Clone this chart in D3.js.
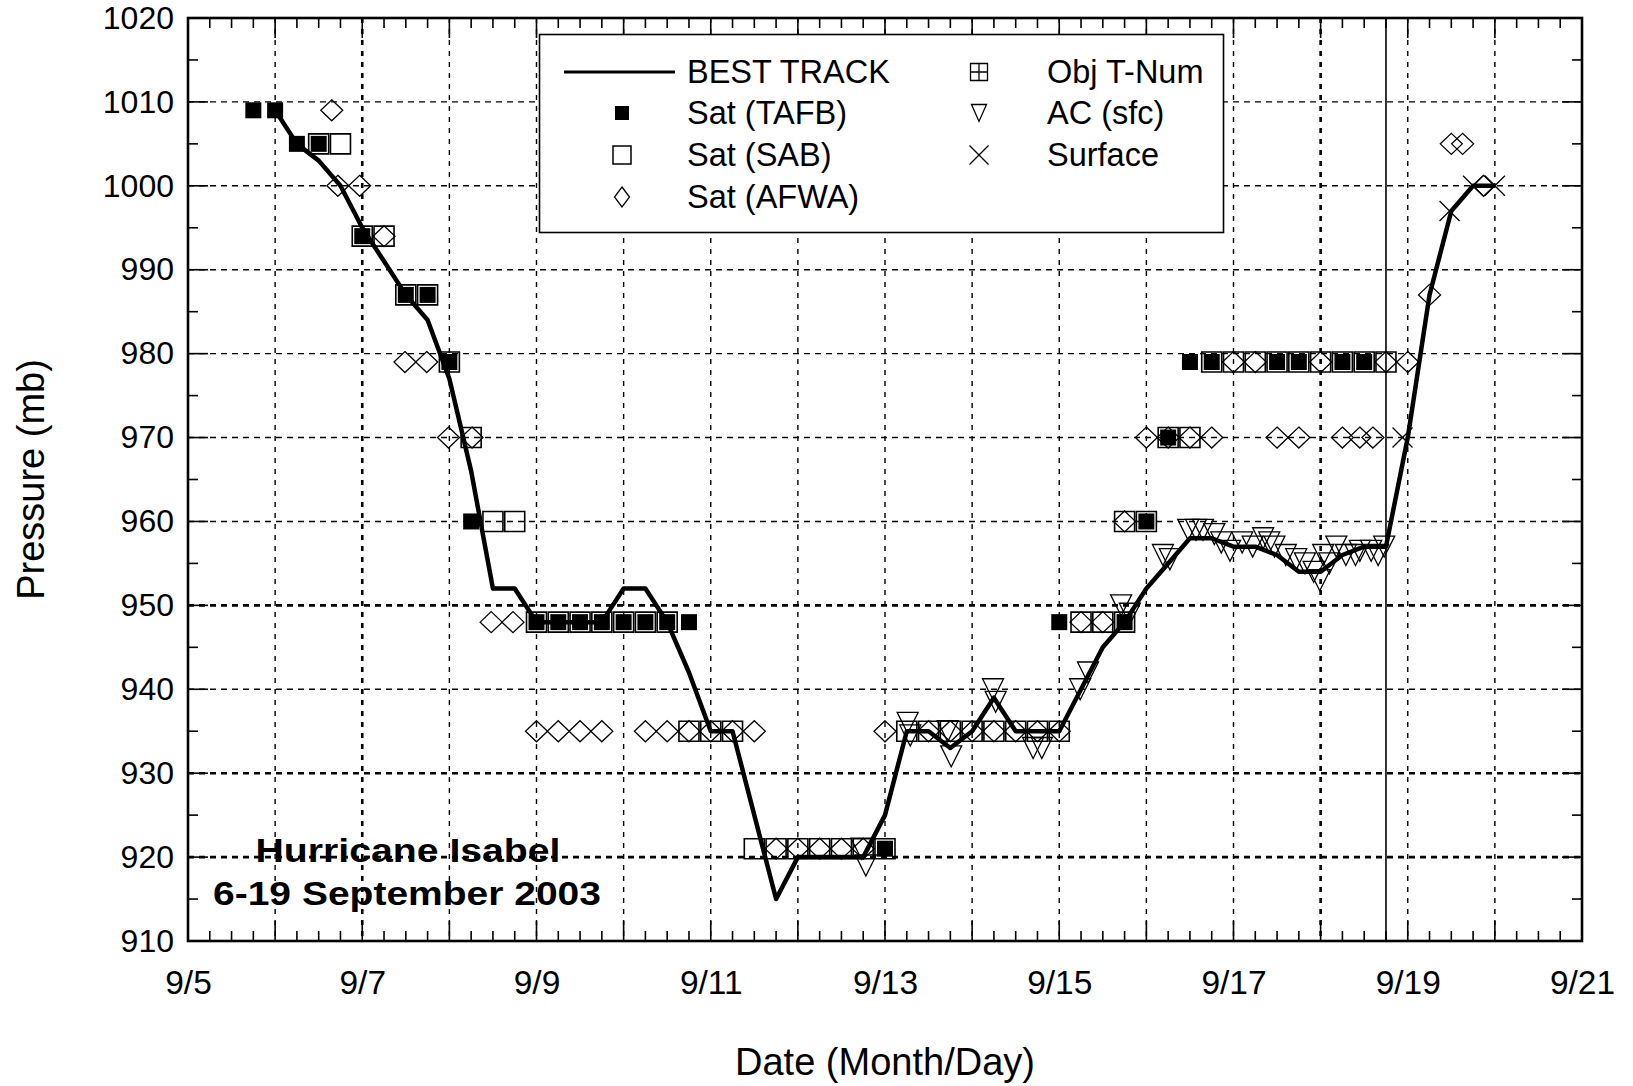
<!DOCTYPE html>
<html><head><meta charset="utf-8">
<script src="https://cdn.jsdelivr.net/npm/d3@7"></script>
<style>
body{margin:0;background:#fff}
svg{display:block}
text{font-family:"Liberation Sans", Arial, sans-serif;fill:#000}
</style>
</head><body>
<svg id="c" width="1633" height="1086"></svg>
<script>
// ---------------- DATA (day of September, pressure in mb) ----------------
const bestTrack = [[6.0,1009],[6.25,1005],[6.5,1003],[6.75,1000],[7.0,995],[7.25,991],[7.5,987],[7.75,984],
 [8.0,977],[8.25,966],[8.5,952],[8.75,952],[9.0,948],[9.25,948],[9.5,948],[9.75,948],[10.0,952],[10.25,952],
 [10.5,948],[10.75,942],[11.0,935],[11.25,935],[11.5,925],[11.75,915],[12.0,920],[12.25,920],[12.5,920],
 [12.75,920],[13.0,925],[13.25,935],[13.5,935],[13.75,933],[14.0,935],[14.25,939],[14.5,935],[14.75,935],
 [15.0,935],[15.25,940],[15.5,945],[15.75,948],[16.0,952],[16.25,955],[16.5,958],[16.75,958],[17.0,957],
 [17.25,957],[17.5,956],[17.75,954],[18.0,954],[18.25,956],[18.5,957],[18.75,957],[19.0,970],[19.25,987],
 [19.5,997],[19.75,1000],[20.0,1000]];

const satTAFB = [[5.75,1009],[6.0,1009],[6.25,1005],[6.5,1005],[7.0,994],[7.5,987],[7.75,987],[8.0,979],
 [8.25,960],[9.0,948],[9.25,948],[9.5,948],[9.75,948],[10.0,948],[10.25,948],[10.5,948],[10.75,948],
 [13.0,921],[15.0,948],[15.75,948],[16.0,960],[16.25,970],[16.5,979],[16.75,979],[17.5,979],[17.75,979],
 [18.25,979],[18.5,979]];

const satSAB = [[6.5,1005],[6.75,1005],[7.0,994],[7.25,994],[7.5,987],[7.75,987],[8.0,979],[8.25,970],
 [8.5,960],[8.75,960],[9.0,948],[9.25,948],[9.5,948],[9.75,948],[10.0,948],[10.25,948],[10.5,948],
 [10.75,935],[11.0,935],[11.25,935],[11.5,921],[11.75,921],[12.0,921],[12.25,921],[12.5,921],[12.75,921],
 [13.0,921],[13.25,935],[13.5,935],[13.75,935],[14.0,935],[14.25,935],[14.5,935],[14.75,935],[15.0,935],
 [15.25,948],[15.5,948],[15.75,948],[15.75,960],[16.0,960],[16.25,970],[16.5,970],[16.75,979],[17.0,979],
 [17.25,979],[17.5,979],[17.75,979],[18.0,979],[18.25,979],[18.5,979],[18.75,979]];

const satAFWA = [[6.65,1009],[6.72,1000],[6.97,1000],[7.25,994],[7.49,979],[7.74,979],[7.99,970],[8.26,970],
 [8.48,948],[8.73,948],[9.0,935],[9.25,935],[9.5,935],[9.75,935],[10.25,935],[10.5,935],[10.75,935],
 [11.0,935],[11.25,935],[11.5,935],[11.75,921],[12.0,921],[12.25,921],[12.5,921],[12.75,921],[13.0,935],
 [13.5,935],[13.75,935],[14.0,935],[14.25,935],[14.5,935],[14.75,935],[15.0,935],[15.25,948],[15.5,948],
 [15.75,960],[16.0,970],[16.25,970],[16.5,970],[16.75,970],[17.0,979],[17.25,979],[17.5,970],[17.75,970],
 [18.0,979],[18.25,970],[18.45,970],[18.6,970],[18.75,979],[19.0,979],[19.25,987],[19.5,1005],
 [19.63,1005],[19.87,1000]];

const objTNum = [];

const acSfc = [[12.73,921],[12.78,919],[13.26,936],[13.29,934.5],[13.72,935],[13.76,932],[14.24,940],
 [14.27,938.5],[14.7,933],[14.8,933],[15.24,940],[15.33,942],[15.71,950],[15.81,949],[16.19,956],
 [16.27,955.5],[16.48,959],[16.57,959],[16.65,959],[16.78,958.5],[16.86,957.5],[16.96,956.5],[17.1,957.5],
 [17.22,957],[17.34,958],[17.41,957.5],[17.47,957],[17.6,956],[17.72,955.5],[17.82,955],[17.92,954],
 [17.99,953],[18.03,956],[18.1,955],[18.18,957],[18.29,956],[18.4,956],[18.45,956.5],[18.58,956.5],
 [18.66,956],[18.73,957]];

const surface = [[18.94,970],[19.48,997],[19.75,1000],[20.0,1000]];

const landfallDay = 18.75;

const xTickDays = [5,7,9,11,13,15,17,19,21];
const xTickLabels = ["9/5","9/7","9/9","9/11","9/13","9/15","9/17","9/19","9/21"];
const yTickValues = [910,920,930,940,950,960,970,980,990,1000,1010,1020];
const yTickLabels = ["910","920","930","940","950","960","970","980","990","1000","1010","1020"];

const legendLabels = ["BEST TRACK","Sat (TAFB)","Sat (SAB)","Sat (AFWA)","Obj T-Num","AC (sfc)","Surface"];
const xTitle = "Date (Month/Day)";
const yTitle = "Pressure (mb)";
const noteLines = ["Hurricane Isabel","6-19 September 2003"];

// ---------------- LAYOUT ----------------
const L=188, R=1582, T=18, B=941;
const x = d3.scaleLinear().domain([5,21]).range([L,R]);
const y = d3.scaleLinear().domain([910,1020]).range([B,T]);
const svg = d3.select("#c");
const FONT = '"Liberation Sans", Arial, sans-serif';

// grid
const heavyDays=[7,18], heavyP=[950,930,920];
const grid = svg.append("g");
grid.selectAll("line.v").data(d3.range(6,21)).join("line")
  .attr("x1",d=>x(d)).attr("x2",d=>x(d)).attr("y1",T).attr("y2",B)
  .attr("stroke","#000").attr("stroke-width",d=>heavyDays.includes(d)?2.6:1.4)
  .attr("stroke-dasharray","5,6");
grid.selectAll("line.h").data(d3.range(920,1020,10)).join("line")
  .attr("y1",d=>y(d)).attr("y2",d=>y(d)).attr("x1",L).attr("x2",R)
  .attr("stroke","#000").attr("stroke-width",d=>heavyP.includes(d)?2.6:1.4)
  .attr("stroke-dasharray","6,5");

// landfall line
svg.append("line").attr("x1",x(landfallDay)).attr("x2",x(landfallDay)).attr("y1",T).attr("y2",B)
  .attr("stroke","#000").attr("stroke-width",1.6);

// marker shapes
function sq(s){const h=s/2;return `M${-h},${-h}H${h}V${h}H${-h}Z`;}
function dia(w,h){return `M0,${-h/2}L${w/2},0L0,${h/2}L${-w/2},0Z`;}
function tri(w,h){return `M${-w/2},${-h/2}H${w/2}L0,${h/2}Z`;}
function cross(s){const h=s/2;return `M${-h},${-h}L${h},${h}M${-h},${h}L${h},${-h}`;}
function boxplus(s){const h=s/2;return `M${-h},${-h}H${h}V${h}H${-h}ZM0,${-h}V${h}M${-h},0H${h}`;}

const mk = svg.append("g");
function drawPts(data, path, fill, sw){
  mk.append("g").selectAll("path").data(data).join("path")
    .attr("transform",d=>`translate(${x(d[0])},${y(d[1])})`)
    .attr("d",path).attr("fill",fill).attr("stroke","#000").attr("stroke-width",sw);
}
drawPts(acSfc, tri(21,21), "none", 1.3);
drawPts(satAFWA, dia(22,21), "none", 1.3);
drawPts(satSAB, sq(20), "none", 1.6);
drawPts(satTAFB, sq(16), "#000", 0);
drawPts(objTNum, boxplus(16), "none", 1.3);
drawPts(surface, cross(20), "none", 1.3);

// best track
svg.append("path").datum(bestTrack)
  .attr("d",d3.line().x(d=>x(d[0])).y(d=>y(d[1])))
  .attr("fill","none").attr("stroke","#000").attr("stroke-width",4.5)
  .attr("stroke-linejoin","round");

// ticks (inward, all 4 sides)
const tk = svg.append("g").attr("stroke","#000").attr("stroke-width",1.6);
const qd = d3.range(5,21.001,0.25);
qd.forEach(d=>{
  const len = Math.abs(d-Math.round(d))<1e-6 ? 20 : 10;
  tk.append("line").attr("x1",x(d)).attr("x2",x(d)).attr("y1",B).attr("y2",B-len);
  tk.append("line").attr("x1",x(d)).attr("x2",x(d)).attr("y1",T).attr("y2",T+len);
});
d3.range(910,1020.001,5).forEach(p=>{
  const len = p%10===0 ? 20 : 10;
  tk.append("line").attr("y1",y(p)).attr("y2",y(p)).attr("x1",L).attr("x2",L+len);
  tk.append("line").attr("y1",y(p)).attr("y2",y(p)).attr("x1",R).attr("x2",R-len);
});

// frame
svg.append("rect").attr("x",L).attr("y",T).attr("width",R-L).attr("height",B-T)
  .attr("fill","none").attr("stroke","#000").attr("stroke-width",2.6);

// axis labels via d3 axes
const ax = svg.append("g").attr("transform",`translate(0,${B})`)
  .call(d3.axisBottom(x).tickValues(xTickDays).tickFormat((d,i)=>xTickLabels[i]).tickSize(0).tickPadding(29));
ax.select(".domain").remove();
ax.attr("font-family",FONT).attr("font-size",33.5);
const ay = svg.append("g").attr("transform",`translate(${L},0)`)
  .call(d3.axisLeft(y).tickValues(yTickValues).tickFormat((d,i)=>yTickLabels[i]).tickSize(0).tickPadding(14));
ay.select(".domain").remove();
ay.attr("font-family",FONT).attr("font-size",32);

// axis titles
svg.append("text").attr("x",(L+R)/2).attr("y",1075).attr("text-anchor","middle")
  .attr("font-size",38).text(xTitle);
svg.append("text").attr("transform",`translate(44,${(T+B)/2}) rotate(-90)`).attr("text-anchor","middle")
  .attr("font-size",38).text(yTitle);

// annotation
svg.append("text").attr("x",408).attr("y",862).attr("text-anchor","middle").attr("font-weight","bold")
  .attr("font-size",34).attr("textLength",305).attr("lengthAdjust","spacingAndGlyphs").text(noteLines[0]);
svg.append("text").attr("x",407).attr("y",905).attr("text-anchor","middle").attr("font-weight","bold")
  .attr("font-size",34).attr("textLength",388).attr("lengthAdjust","spacingAndGlyphs").text(noteLines[1]);

// legend
const lg = svg.append("g");
lg.append("rect").attr("x",539.5).attr("y",34.5).attr("width",684).attr("height",198)
  .attr("fill","#fff").attr("stroke","#000").attr("stroke-width",1.6);
const rowY = [72,113,155,197];
const c1s=622, c1t=687, c2s=979, c2t=1047;
lg.append("line").attr("x1",564).attr("x2",675).attr("y1",rowY[0]).attr("y2",rowY[0])
  .attr("stroke","#000").attr("stroke-width",3);
const legSyms = [
  null,
  {p:sq(14),f:"#000",sw:0},
  {p:sq(18),f:"none",sw:1.5},
  {p:dia(15,20),f:"none",sw:1.3},
  {p:boxplus(17),f:"none",sw:1.3},
  {p:tri(15,17),f:"none",sw:1.3},
  {p:cross(19),f:"none",sw:1.3}
];
legendLabels.forEach((lab,i)=>{
  const col = i<4?0:1, row = i<4?i:i-4;
  const sx = col?c2s:c1s, tx = col?c2t:c1t, yy=rowY[row];
  if(legSyms[i]) lg.append("path").attr("transform",`translate(${sx},${yy})`).attr("d",legSyms[i].p)
     .attr("fill",legSyms[i].f).attr("stroke","#000").attr("stroke-width",legSyms[i].sw);
  lg.append("text").attr("x",tx).attr("y",yy).attr("dy","0.35em").attr("font-size",32.5).text(lab);
});
</script>
</body></html>
